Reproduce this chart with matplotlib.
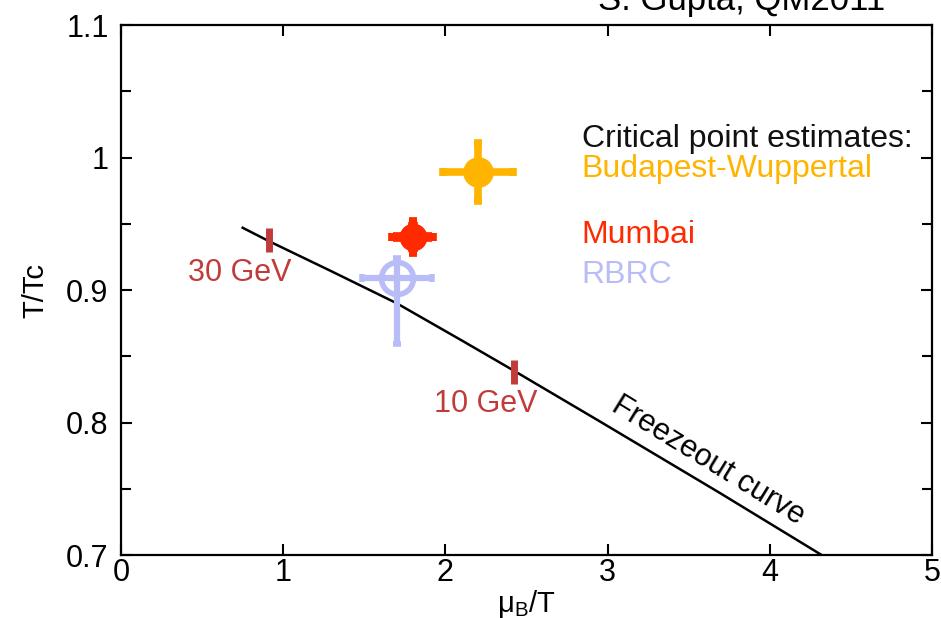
import matplotlib
matplotlib.use('Agg')
import matplotlib.pyplot as plt

plt.rcParams['font.family'] = ['Liberation Sans', 'DejaVu Sans']
plt.rcParams['mathtext.fontset'] = 'custom'
plt.rcParams['mathtext.rm'] = 'Liberation Sans'

# Freezeout curve (mu_B/T, T/Tc)
freeze_mu = [0.75, 0.91, 1.30, 1.70, 2.10, 2.41, 2.95, 3.69, 4.32]
freeze_T = [0.947, 0.937, 0.914, 0.890, 0.862, 0.840, 0.801, 0.747, 0.700]

# Beam energy markers on the curve
gev_labels = ['30 GeV', '10 GeV']
gev_mu = [0.91, 2.42]
gev_T = [0.9375, 0.8385]

# Critical point estimates
bw_mu, bw_T, bw_dmu, bw_dT = 2.20, 0.989, 0.215, 0.022
mum_mu, mum_T, mum_dmu, mum_dT = 1.80, 0.940, 0.12, 0.011
rbrc_mu, rbrc_T, rbrc_dmu = 1.70, 0.909, 0.215
rbrc_dT_lo, rbrc_dT_hi = 0.050, 0.015

c_bw = '#ffb400'
c_mum = '#ff2a00'
c_rbrc = '#b9bdf7'
c_gev = '#c23b3b'

fig = plt.figure(figsize=(9.41, 6.18), dpi=100)
ax = fig.add_axes([0.1286, 0.1019, 0.8618, 0.8576])

ax.plot(freeze_mu, freeze_T, color='black', lw=1.8, zorder=2)

# energy ticks and labels
ax.plot(gev_mu, gev_T, ls='none', marker='|', ms=17, mew=5, color=c_gev, zorder=3)
ax.text(0.41, 0.907, gev_labels[0], color=c_gev, fontsize=22)
ax.text(1.93, 0.808, gev_labels[1], color=c_gev, fontsize=22)

# RBRC (open circle, asymmetric error)
ax.errorbar([rbrc_mu], [rbrc_T], xerr=[[rbrc_dmu], [rbrc_dmu]],
            yerr=[[rbrc_dT_lo], [rbrc_dT_hi]], fmt='o', ms=23, mfc='none',
            mec=c_rbrc, mew=4, ecolor=c_rbrc, elinewidth=4.5, capsize=3,
            capthick=4.5, zorder=4)
# Mumbai
ax.errorbar([mum_mu], [mum_T], xerr=mum_dmu, yerr=mum_dT, fmt='o', ms=19,
            color=c_mum, elinewidth=7, capsize=3, capthick=7, zorder=5)
# Budapest-Wuppertal
ax.errorbar([bw_mu], [bw_T], xerr=bw_dmu, yerr=bw_dT, fmt='o', ms=21,
            color=c_bw, elinewidth=5.5, capsize=3, capthick=5.5, zorder=5)

ax.text(2.84, 1.008, 'Critical point estimates:', color='#111111', fontsize=23)
ax.text(2.84, 0.985, 'Budapest-Wuppertal', color=c_bw, fontsize=23)
ax.text(2.84, 0.9355, 'Mumbai', color=c_mum, fontsize=23)
ax.text(2.84, 0.905, 'RBRC', color=c_rbrc, fontsize=23)

ax.text(3.62, 0.771, 'Freezeout curve', fontsize=22, rotation=-31.5,
        ha='center', va='center', rotation_mode='anchor')

ax.set_xlim(0, 5)
ax.set_ylim(0.7, 1.1)
ax.set_xticks([0, 1, 2, 3, 4, 5])
ax.set_xticklabels(['0', '1', '2', '3', '4', '5'])
ax.set_yticks([0.7, 0.8, 0.9, 1.0, 1.1])
ax.set_yticklabels(['0.7', '0.8', '0.9', '1', '1.1'])
ax.set_yticks([0.75, 0.85, 0.95, 1.05], minor=True)

ax.tick_params(which='both', direction='in', top=True, right=True, width=1.5)
ax.tick_params(which='major', length=8, labelsize=22)
ax.tick_params(which='minor', length=7)
ax.tick_params(axis='y', pad=9)
ax.tick_params(axis='x', pad=2)
for s in ax.spines.values():
    s.set_linewidth(1.6)

ax.set_xlabel('μ$_\\mathregular{B}$/T', fontsize=21, labelpad=0)
ax.set_ylabel('T/Tc', fontsize=21, labelpad=12)

fig.text(598 / 941, 1 - 10 / 618, 'S. Gupta, QM2011', fontsize=25,
         ha='left', va='baseline')

fig.savefig('out.png', dpi=100, facecolor='white')
